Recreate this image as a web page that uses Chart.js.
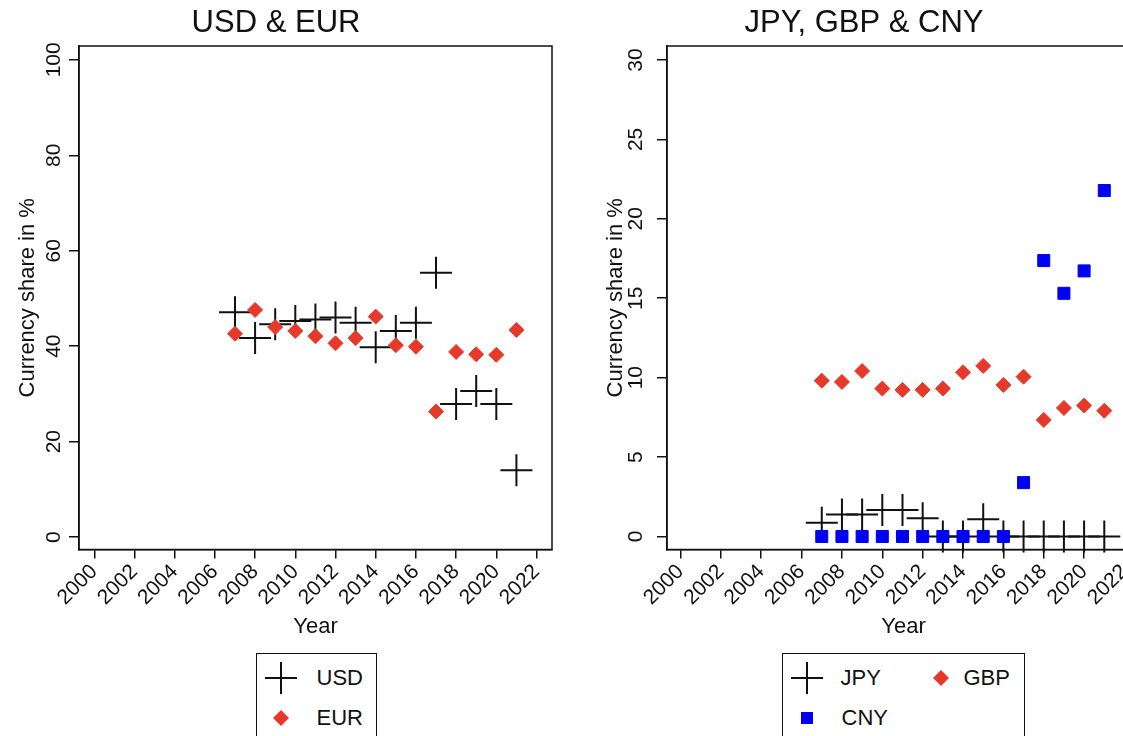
<!DOCTYPE html>
<html>
<head>
<meta charset="utf-8">
<title>Currency shares</title>
<script src="https://cdn.jsdelivr.net/npm/chart.js@4.4.1/dist/chart.umd.min.js"></script>
<style>
  html, body { margin: 0; padding: 0; background: #fff; }
  body {
    width: 1123px; height: 736px; overflow: hidden; position: relative;
    font-family: "Liberation Sans", Arial, Helvetica, sans-serif;
  }
  .panel { position: absolute; top: 0; width: 600px; height: 660px; }
  .legend {
    position: absolute; top: 653px; height: 96px;
    border: 1.5px solid #111; box-sizing: border-box; background: #fff;
  }
  .item { position: absolute; height: 40px; display: flex; align-items: center; }
  .item span { position: absolute; font-size: 22px; color: #111; white-space: nowrap; line-height: 40px; }
  .item svg { position: absolute; top: 4px; }
</style>
</head>
<body>
<div class="panel" style="left:0"><canvas id="chart-left" width="600" height="660"></canvas></div>
<div class="panel" style="left:588px"><canvas id="chart-right" width="600" height="660"></canvas></div>
<div class="legend" id="legend-left" style="left:256px; width:121px;"></div>
<div class="legend" id="legend-right" style="left:782px; width:243px;"></div>

<script>
// ── Data ──
const YEARS = [2007, 2008, 2009, 2010, 2011, 2012, 2013, 2014, 2015, 2016, 2017, 2018, 2019, 2020, 2021];

const USD = [47.1, 41.7, 44.6, 45.3, 45.6, 46.0, 44.9, 39.8, 43.2, 44.9, 55.4, 27.9, 30.6, 27.9, 14.0];
const EUR = [42.6, 47.6, 44.0, 43.2, 42.1, 40.6, 41.7, 46.2, 40.2, 39.9, 26.3, 38.8, 38.3, 38.2, 43.4];

const JPY = [0.87, 1.39, 1.39, 1.67, 1.67, 1.15, 0, 0, 1.08, 0, 0, 0, 0, 0, 0];
const GBP = [9.81, 9.73, 10.42, 9.31, 9.23, 9.23, 9.31, 10.34, 10.74, 9.54, 10.06, 7.34, 8.09, 8.24, 7.92];
const CNY = [0, 0, 0, 0, 0, 0, 0, 0, 0, 0, 3.39, 17.37, 15.31, 16.72, 21.78];

const X_TICKS = [2000, 2002, 2004, 2006, 2008, 2010, 2012, 2014, 2016, 2018, 2020, 2022];
const Y_TICKS_LEFT = [0, 20, 40, 60, 80, 100];
const Y_TICKS_RIGHT = [0, 5, 10, 15, 20, 25, 30];

const INK = '#111111';
const RED = '#e6392a';
const BLUE = '#0000f2';
const FONT = '"Liberation Sans", Arial, Helvetica, sans-serif';

// ── Helpers ──
function points(values) {
    return YEARS.map((yr, i) => ({ x: yr, y: values[i] }));
}

function crossSet(label, values, order) {
    return {
        label, data: points(values), order,
        pointStyle: 'cross', pointRadius: 16, pointHoverRadius: 16,
        borderColor: INK, borderWidth: 2, backgroundColor: INK, clip: false,
    };
}

function diamondSet(label, values, order) {
    return {
        label, data: points(values), order,
        pointStyle: 'rectRot', pointRadius: 7.5, pointHoverRadius: 7.5,
        borderColor: RED, borderWidth: 1, backgroundColor: RED, clip: false,
    };
}

function squareSet(label, values, order) {
    return {
        label, data: points(values), order,
        pointStyle: 'rect', pointRadius: 8.5, pointHoverRadius: 8.5,
        borderColor: BLUE, borderWidth: 1, backgroundColor: BLUE, clip: false,
    };
}

// frame round the plot region (top & right sides are not axes)
const frame = {
    id: 'frame',
    beforeDatasetsDraw(chart) {
        const { ctx, chartArea: a } = chart;
        ctx.save();
        ctx.strokeStyle = INK;
        ctx.lineWidth = 1.5;
        ctx.strokeRect(a.left, a.top, a.right - a.left, a.bottom - a.top);
        ctx.restore();
    },
};

function buildChart(id, title, datasets, yTicks, yMin, yMax, xMin, yTickPad) {
    const ctx = document.getElementById(id).getContext('2d');
    return new Chart(ctx, {
        type: 'scatter',
        data: { datasets },
        plugins: [frame],
        options: {
            responsive: false,
            animation: false,
            events: [],
            layout: { padding: { left: 0, right: 48, top: 0, bottom: 0 } },
            plugins: {
                legend: { display: false },
                tooltip: { enabled: false },
                title: {
                    display: true, text: title, color: INK,
                    font: { family: FONT, size: 31, weight: 'normal' },
                    padding: { top: 4.4, bottom: 4.4 },
                },
            },
            scales: {
                x: {
                    type: 'linear', min: xMin, max: 2022.77,
                    afterBuildTicks: s => { s.ticks = X_TICKS.map(v => ({ value: v })); },
                    afterFit: s => { s.height = 110.5; },
                    ticks: {
                        autoSkip: false, minRotation: 45, maxRotation: 45, padding: 1,
                        color: INK, font: { family: FONT, size: 21 },
                        callback: v => String(v),
                    },
                    grid: { display: true, drawOnChartArea: false, drawTicks: true, tickLength: 9, color: INK, lineWidth: 1.5 },
                    border: { display: true, color: INK, width: 1.5 },
                    title: {
                        display: true, text: 'Year', color: INK,
                        font: { family: FONT, size: 22 },
                        padding: { top: 0, bottom: 19.8 },
                    },
                },
                y: {
                    type: 'linear', min: yMin, max: yMax,
                    afterBuildTicks: s => { s.ticks = yTicks.map(v => ({ value: v })); },
                    afterFit: s => { s.width = 79; },
                    ticks: {
                        autoSkip: false, minRotation: 90, maxRotation: 90,
                        crossAlign: 'center', padding: yTickPad,
                        color: INK, font: { family: FONT, size: 21 },
                        callback: v => String(v),
                    },
                    grid: { display: true, drawOnChartArea: false, drawTicks: true, tickLength: 10, color: INK, lineWidth: 1.5 },
                    border: { display: true, color: INK, width: 1.5 },
                    title: {
                        display: true, text: 'Currency share in %', color: INK,
                        font: { family: FONT, size: 22 },
                        padding: { top: 14.3, bottom: 0 },
                    },
                },
            },
        },
    });
}

// ── Legends (HTML, boxed like the original) ──
const MARKERS = {
    cross: `<svg width="32" height="32"><path d="M0 16H32M16 0V32" stroke="${INK}" stroke-width="2" fill="none"/></svg>`,
    diamond: `<svg width="32" height="32"><polygon points="16,8 24,16 16,24 8,16" fill="${RED}"/></svg>`,
    square: `<svg width="32" height="32"><rect x="10" y="10" width="12" height="12" fill="${BLUE}"/></svg>`,
};

function buildLegend(id, items) {
    const box = document.getElementById(id);
    box.innerHTML = items.map(it =>
        `<div class="item" style="left:0; top:${it.top}px;">` +
        `<span style="left:${it.markX - 16}px; top:0; line-height:0;">${MARKERS[it.marker]}</span>` +
        `<span style="left:${it.textX}px; top:0;">${it.label}</span></div>`
    ).join('');
}

// ── Init ──
buildChart('chart-left', 'USD & EUR',
    [crossSet('USD', USD, 2), diamondSet('EUR', EUR, 1)],
    Y_TICKS_LEFT, -2.6, 102.9, 1999.24, -3);

buildChart('chart-right', 'JPY, GBP & CNY',
    [crossSet('JPY', JPY, 3), diamondSet('GBP', GBP, 2), squareSet('CNY', CNY, 1)],
    Y_TICKS_RIGHT, -0.82, 30.88, 1999.33, 8.8);

buildLegend('legend-left', [
    { label: 'USD', marker: 'cross', markX: 23.5, textX: 59.5, top: 3.5 },
    { label: 'EUR', marker: 'diamond', markX: 23.5, textX: 59.5, top: 43.5 },
]);
buildLegend('legend-right', [
    { label: 'JPY', marker: 'cross', markX: 23.5, textX: 57.5, top: 3.5 },
    { label: 'GBP', marker: 'diamond', markX: 157.5, textX: 180.5, top: 3.5 },
    { label: 'CNY', marker: 'square', markX: 23.5, textX: 58.5, top: 43.5 },
]);
</script>
</body>
</html>
